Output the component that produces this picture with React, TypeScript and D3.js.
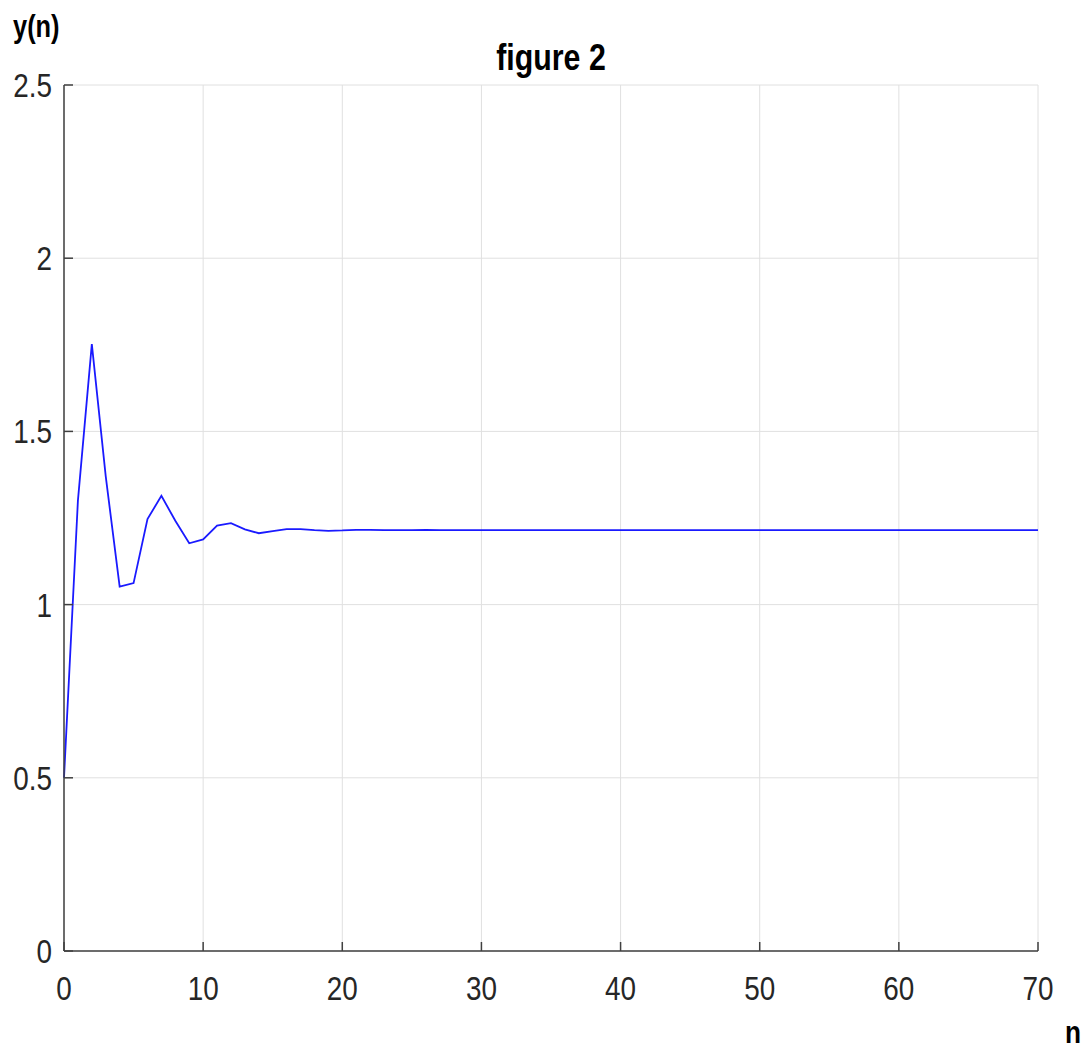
import React from 'react';
import * as d3 from 'd3';

// y(n) for n = 0..70
const yValues = [
  0.5, 1.3, 1.752, 1.37, 1.052, 1.062, 1.247, 1.314, 1.242, 1.177,
  1.188, 1.228, 1.235, 1.217, 1.206, 1.212, 1.218, 1.218, 1.215, 1.213,
  1.214, 1.216, 1.216, 1.215, 1.215, 1.215, 1.216, 1.215, 1.215, 1.215,
  1.215, 1.215, 1.215, 1.215, 1.215, 1.215, 1.215, 1.215, 1.215, 1.215,
  1.215, 1.215, 1.215, 1.215, 1.215, 1.215, 1.215, 1.215, 1.215, 1.215,
  1.215, 1.215, 1.215, 1.215, 1.215, 1.215, 1.215, 1.215, 1.215, 1.215,
  1.215, 1.215, 1.215, 1.215, 1.215, 1.215, 1.215, 1.215, 1.215, 1.215,
  1.215,
];
const xTicks = [0, 10, 20, 30, 40, 50, 60, 70];
const yTicks = [0, 0.5, 1, 1.5, 2, 2.5];
const yTickLabels = ['0', '0.5', '1', '1.5', '2', '2.5'];

const W = 1088;
const H = 1051;
const margin = { top: 85, right: 50, bottom: 100, left: 64 };
const font = '"Liberation Sans", Arial, sans-serif';

// the reference text is horizontally condensed, so squeeze it
const Label = ({ x, y, size, anchor = 'start', bold = false, fill = '#262626', children }: any) => (
  <text
    transform={`translate(${x},${y}) scale(0.82,1)`}
    textAnchor={anchor}
    fontSize={size}
    fontWeight={bold ? 'bold' : 'normal'}
    fill={fill}
  >
    {children}
  </text>
);

const App = () => {
  const x = d3
    .scaleLinear()
    .domain([0, 70])
    .range([margin.left, W - margin.right]);
  const y = d3
    .scaleLinear()
    .domain([0, 2.5])
    .range([H - margin.bottom, margin.top]);

  const line = d3
    .line<number>()
    .x((d, i) => x(i))
    .y((d) => y(d));

  const x0 = x(0);
  const x1 = x(70);
  const y0 = y(0);
  const y1 = y(2.5);

  return (
    <svg
      width={W}
      height={H}
      style={{ position: 'absolute', left: 0, top: 0, background: '#fff' }}
      fontFamily={font}
    >
      {/* grid */}
      {xTicks.map((t) => (
        <line key={'gx' + t} x1={x(t)} x2={x(t)} y1={y0} y2={y1} stroke="#e0e0e0" strokeWidth={1} />
      ))}
      {yTicks.map((t) => (
        <line key={'gy' + t} x1={x0} x2={x1} y1={y(t)} y2={y(t)} stroke="#e0e0e0" strokeWidth={1} />
      ))}

      {/* data */}
      <path d={line(yValues) || ''} fill="none" stroke="#1a1aff" strokeWidth={1.8} />

      {/* axes */}
      <line x1={x0} x2={x0} y1={y0} y2={y1} stroke="#404040" strokeWidth={1.5} />
      <line x1={x0} x2={x1} y1={y0} y2={y0} stroke="#404040" strokeWidth={1.5} />
      {xTicks.map((t) => (
        <g key={'tx' + t}>
          <line x1={x(t)} x2={x(t)} y1={y0} y2={y0 - 9} stroke="#404040" strokeWidth={1.5} />
          <Label x={x(t)} y={1000} size={34} anchor="middle">
            {t}
          </Label>
        </g>
      ))}
      {yTicks.map((t, i) => (
        <g key={'ty' + t}>
          <line x1={x0} x2={x0 + 9} y1={y(t)} y2={y(t)} stroke="#404040" strokeWidth={1.5} />
          <Label x={52} y={y(t) + 12} size={34} anchor="end">
            {yTickLabels[i]}
          </Label>
        </g>
      ))}

      {/* labels */}
      <Label x={(x0 + x1) / 2} y={70} size={37} anchor="middle" bold fill="#000">
        figure 2
      </Label>
      <Label x={13} y={37} size={31} bold fill="#000">
        y(n)
      </Label>
      <Label x={1065} y={1043} size={32} bold fill="#000">
        n
      </Label>
    </svg>
  );
};

export default App;
